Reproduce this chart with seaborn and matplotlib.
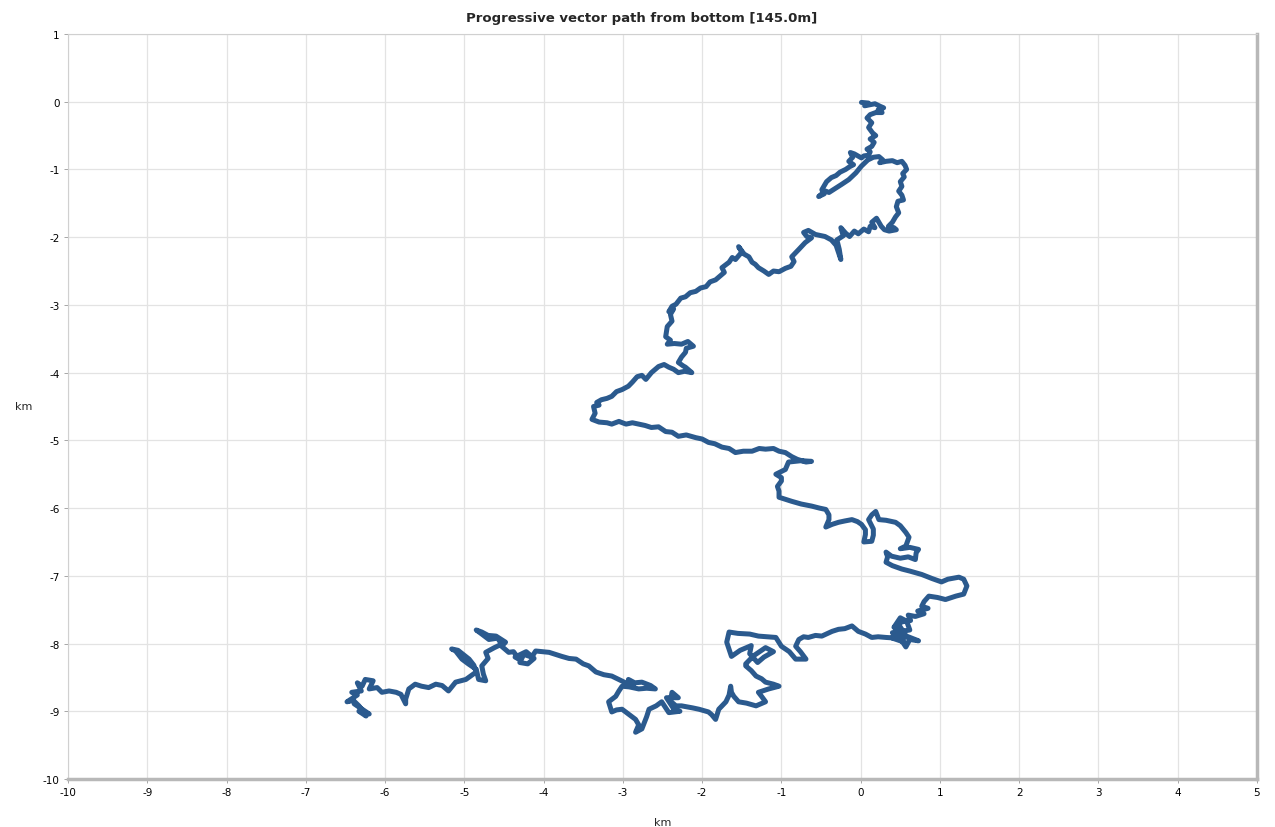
import matplotlib
matplotlib.use("Agg")
import matplotlib.pyplot as plt
import pandas as pd
import seaborn as sns

# path as (km east, km north) points, split into stretches
seg_top = [(0.01, -0.01), (0.10, -0.02), (0.05, -0.06), (0.18, -0.03), (0.25, -0.07), (0.29, -0.09),
           (0.22, -0.12), (0.27, -0.16), (0.19, -0.16), (0.12, -0.19), (0.08, -0.24), (0.14, -0.31),
           (0.10, -0.38), (0.15, -0.46), (0.19, -0.50), (0.12, -0.55), (0.17, -0.60), (0.14, -0.66),
           (0.08, -0.70), (0.12, -0.74), (0.10, -0.79), (0.04, -0.80), (0.01, -0.83), (-0.08, -0.77),
           (-0.13, -0.75), (-0.10, -0.82), (-0.15, -0.88), (-0.09, -0.93), (-0.14, -0.96), (-0.19, -1.00),
           (-0.26, -1.04), (-0.31, -1.09), (-0.37, -1.12), (-0.43, -1.18), (-0.49, -1.30), (-0.46, -1.36),
           (-0.53, -1.40), (-0.50, -1.37), (-0.44, -1.32), (-0.40, -1.34), (-0.32, -1.28), (-0.24, -1.22),
           (-0.15, -1.15), (-0.06, -1.05), (0.01, -0.95), (0.09, -0.86), (0.16, -0.82), (0.23, -0.81),
           (0.28, -0.86), (0.24, -0.90), (0.32, -0.88), (0.40, -0.87), (0.46, -0.90), (0.52, -0.88),
           (0.56, -0.94), (0.58, -1.00), (0.53, -1.06), (0.55, -1.11), (0.50, -1.18), (0.52, -1.25),
           (0.48, -1.32), (0.52, -1.38), (0.54, -1.45), (0.47, -1.47), (0.45, -1.55), (0.48, -1.64),
           (0.44, -1.70), (0.40, -1.78), (0.35, -1.84), (0.42, -1.86), (0.45, -1.89), (0.36, -1.91),
           (0.30, -1.89), (0.26, -1.84), (0.20, -1.72), (0.14, -1.78), (0.18, -1.86), (0.12, -1.84),
           (0.10, -1.92), (0.04, -1.88), (-0.03, -1.95), (-0.08, -1.91), (-0.14, -1.99), (-0.19, -1.94),
           (-0.25, -1.86), (-0.22, -1.98), (-0.30, -2.04), (-0.27, -2.18), (-0.25, -2.33), (-0.31, -2.12),
           (-0.37, -2.04), (-0.45, -1.99), (-0.57, -1.96), (-0.66, -1.90), (-0.72, -1.93), (-0.68, -1.99),
           (-0.62, -2.01), (-0.70, -2.08), (-0.78, -2.18)]

seg_west = [(-0.87, -2.29), (-0.84, -2.36), (-0.88, -2.43), (-0.95, -2.46), (-1.03, -2.51), (-1.10, -2.50),
            (-1.16, -2.55), (-1.22, -2.50), (-1.29, -2.45), (-1.33, -2.40), (-1.37, -2.37), (-1.41, -2.29),
            (-1.47, -2.25), (-1.54, -2.14), (-1.50, -2.22), (-1.58, -2.33), (-1.62, -2.30), (-1.66, -2.37),
            (-1.75, -2.45), (-1.72, -2.52), (-1.83, -2.63), (-1.90, -2.66), (-1.95, -2.73), (-2.02, -2.75),
            (-2.08, -2.80), (-2.15, -2.82), (-2.21, -2.88), (-2.27, -2.90), (-2.33, -2.99), (-2.38, -3.02),
            (-2.42, -3.10), (-2.36, -3.06), (-2.40, -3.14), (-2.38, -3.24), (-2.44, -3.32), (-2.46, -3.47),
            (-2.40, -3.52), (-2.44, -3.58), (-2.35, -3.57), (-2.26, -3.58), (-2.18, -3.54), (-2.11, -3.61),
            (-2.20, -3.64), (-2.21, -3.70), (-2.26, -3.77), (-2.30, -3.85), (-2.24, -3.90), (-2.21, -3.92),
            (-2.13, -4.00), (-2.22, -3.98), (-2.30, -4.00), (-2.36, -3.95), (-2.42, -3.92), (-2.48, -3.88),
            (-2.55, -3.91), (-2.60, -3.96), (-2.64, -4.00), (-2.71, -4.10), (-2.76, -4.04), (-2.82, -4.06),
            (-2.88, -4.14), (-2.93, -4.20), (-3.01, -4.25), (-3.08, -4.28), (-3.14, -4.35), (-3.20, -4.38),
            (-3.27, -4.40), (-3.33, -4.44), (-3.30, -4.48), (-3.37, -4.50), (-3.35, -4.60), (-3.39, -4.69),
            (-3.30, -4.73), (-3.20, -4.74), (-3.14, -4.76), (-3.05, -4.72), (-2.96, -4.76), (-2.88, -4.74),
            (-2.80, -4.76), (-2.72, -4.78), (-2.64, -4.81), (-2.55, -4.80), (-2.46, -4.87), (-2.38, -4.88),
            (-2.30, -4.94), (-2.20, -4.92), (-2.08, -4.96), (-2.00, -4.98), (-1.92, -5.03), (-1.84, -5.05),
            (-1.75, -5.10), (-1.66, -5.12), (-1.58, -5.18), (-1.48, -5.16), (-1.37, -5.16), (-1.28, -5.12),
            (-1.20, -5.13), (-1.10, -5.12), (-1.03, -5.16)]

seg_east = [(-0.95, -5.18), (-0.87, -5.24), (-0.80, -5.28), (-0.69, -5.32), (-0.62, -5.31), (-0.75, -5.30),
            (-0.91, -5.32), (-0.95, -5.43), (-1.07, -5.50), (-1.00, -5.55), (-1.00, -5.60), (-1.05, -5.68),
            (-1.03, -5.75), (-1.03, -5.84), (-0.95, -5.87), (-0.87, -5.90), (-0.75, -5.94), (-0.62, -5.97),
            (-0.52, -6.00), (-0.44, -6.02), (-0.40, -6.10), (-0.40, -6.17), (-0.44, -6.28), (-0.36, -6.24),
            (-0.28, -6.21), (-0.20, -6.19), (-0.11, -6.17), (-0.04, -6.20), (0.01, -6.24), (0.06, -6.32),
            (0.06, -6.39), (0.04, -6.50), (0.14, -6.49), (0.16, -6.40), (0.16, -6.31), (0.10, -6.17),
            (0.14, -6.10), (0.19, -6.05), (0.23, -6.17), (0.32, -6.18), (0.44, -6.21), (0.50, -6.26),
            (0.57, -6.36), (0.61, -6.43), (0.57, -6.56), (0.50, -6.60), (0.62, -6.58), (0.73, -6.61),
            (0.70, -6.66), (0.69, -6.76), (0.60, -6.72), (0.50, -6.74), (0.39, -6.71), (0.32, -6.65),
            (0.34, -6.72), (0.32, -6.80), (0.40, -6.85), (0.52, -6.90), (0.62, -6.93), (0.77, -6.98),
            (0.90, -7.04), (1.02, -7.09), (1.10, -7.05), (1.24, -7.02), (1.30, -7.05), (1.34, -7.15),
            (1.30, -7.27), (1.20, -7.30), (1.07, -7.35), (0.97, -7.32), (0.86, -7.30), (0.80, -7.38),
            (0.77, -7.45), (0.85, -7.48), (0.72, -7.52), (0.80, -7.56), (0.69, -7.60), (0.60, -7.58),
            (0.63, -7.66), (0.52, -7.68), (0.42, -7.76), (0.50, -7.62), (0.58, -7.67), (0.62, -7.80),
            (0.40, -7.84), (0.58, -7.90), (0.48, -7.72), (0.40, -7.92), (0.55, -7.98), (0.48, -7.89),
            (0.57, -8.05), (0.62, -7.94), (0.73, -7.96), (0.60, -7.90), (0.45, -7.92), (0.32, -7.91),
            (0.22, -7.90), (0.14, -7.91), (0.06, -7.86), (-0.03, -7.82), (-0.11, -7.74), (-0.20, -7.78),
            (-0.28, -7.79), (-0.36, -7.82), (-0.49, -7.89), (-0.57, -7.88), (-0.66, -7.91), (-0.72, -7.90),
            (-0.78, -7.94), (-0.82, -8.04), (-0.76, -8.12), (-0.69, -8.23), (-0.82, -8.23), (-0.90, -8.12),
            (-1.00, -8.04), (-1.07, -7.91), (-1.18, -7.90), (-1.29, -7.89), (-1.40, -7.86), (-1.55, -7.85),
            (-1.66, -7.83), (-1.69, -7.98), (-1.63, -8.19), (-1.52, -8.10), (-1.38, -8.03), (-1.40, -8.15),
            (-1.30, -8.28), (-1.22, -8.20), (-1.10, -8.12), (-1.20, -8.06), (-1.35, -8.18), (-1.45, -8.30),
            (-1.45, -8.33), (-1.38, -8.40), (-1.32, -8.48), (-1.25, -8.52), (-1.20, -8.57), (-1.10, -8.60),
            (-1.03, -8.63), (-1.16, -8.67), (-1.29, -8.72), (-1.25, -8.78), (-1.20, -8.86), (-1.32, -8.92),
            (-1.44, -8.88), (-1.54, -8.86), (-1.60, -8.78), (-1.63, -8.72), (-1.64, -8.63), (-1.66, -8.76),
            (-1.70, -8.86), (-1.75, -8.92), (-1.79, -8.97), (-1.83, -9.12), (-1.88, -9.05), (-1.92, -9.01),
            (-2.04, -8.97)]

seg_south = [(-2.12, -8.95), (-2.26, -8.92), (-2.33, -8.92), (-2.40, -8.85), (-2.38, -8.72), (-2.30, -8.80),
             (-2.45, -8.80), (-2.35, -8.98), (-2.28, -9.00), (-2.42, -9.02), (-2.51, -8.86), (-2.58, -8.92),
             (-2.67, -8.97), (-2.70, -9.08), (-2.76, -9.26), (-2.84, -9.31), (-2.80, -9.20), (-2.84, -9.12),
             (-2.92, -9.05), (-3.01, -8.97), (-3.08, -8.98), (-3.14, -9.01), (-3.18, -8.86), (-3.09, -8.78),
             (-3.05, -8.70), (-3.01, -8.63), (-2.92, -8.64), (-2.80, -8.67), (-2.70, -8.66), (-2.59, -8.67),
             (-2.65, -8.62), (-2.76, -8.57), (-2.85, -8.58), (-2.93, -8.53), (-2.86, -8.64), (-3.00, -8.56),
             (-3.14, -8.48), (-3.24, -8.46), (-3.34, -8.42), (-3.43, -8.33), (-3.50, -8.30), (-3.59, -8.23),
             (-3.68, -8.22), (-3.77, -8.19), (-3.85, -8.16), (-3.93, -8.13), (-4.02, -8.12), (-4.10, -8.11),
             (-4.15, -8.20), (-4.25, -8.16), (-4.30, -8.28), (-4.20, -8.30), (-4.12, -8.22), (-4.22, -8.12),
             (-4.36, -8.20), (-4.31, -8.23), (-4.38, -8.12), (-4.44, -8.13), (-4.53, -8.04), (-4.48, -7.98),
             (-4.60, -7.89), (-4.70, -7.88), (-4.78, -7.83), (-4.85, -7.80), (-4.78, -7.86), (-4.69, -7.94),
             (-4.58, -7.92), (-4.53, -8.01), (-4.62, -8.06), (-4.73, -8.13), (-4.70, -8.22), (-4.78, -8.33),
             (-4.76, -8.45), (-4.73, -8.55), (-4.82, -8.53), (-4.85, -8.38), (-4.95, -8.30), (-5.03, -8.23),
             (-5.11, -8.11), (-5.16, -8.08), (-5.08, -8.10), (-4.94, -8.23), (-4.88, -8.32), (-4.85, -8.42),
             (-4.98, -8.53), (-5.11, -8.57), (-5.20, -8.70), (-5.28, -8.62), (-5.36, -8.60), (-5.45, -8.65),
             (-5.54, -8.63), (-5.62, -8.60), (-5.70, -8.67), (-5.74, -8.82), (-5.74, -8.89), (-5.80, -8.75),
             (-5.86, -8.72), (-5.95, -8.70), (-6.04, -8.72), (-6.10, -8.65), (-6.20, -8.67), (-6.15, -8.55),
             (-6.25, -8.53), (-6.29, -8.63), (-6.35, -8.58), (-6.30, -8.70), (-6.42, -8.72), (-6.35, -8.76),
             (-6.48, -8.86), (-6.40, -8.84), (-6.33, -8.92), (-6.24, -9.07), (-6.33, -9.00), (-6.20, -9.04),
             (-6.39, -8.89)]

x_ticks = list(range(-10, 6))
y_ticks = list(range(-10, 2))

points = seg_top + seg_west + seg_east + seg_south
df = pd.DataFrame(points, columns=["x", "y"])
df["step"] = range(len(df))

sns.set_style("whitegrid")
plt.rcParams["font.family"] = ["DejaVu Sans"]
plt.rcParams["axes.unicode_minus"] = False

fig = plt.figure(figsize=(12.75, 8.28), dpi=100)
ax = fig.add_axes([68 / 1275, 48 / 828, 1189 / 1275, 745 / 828])

sns.lineplot(data=df, x="x", y="y", sort=False, estimator=None, color="#2b5a8e",
             linewidth=3.6, ax=ax, solid_joinstyle="round", solid_capstyle="round")

ax.set_xlim(-10, 5)
ax.set_ylim(-10, 1)
ax.set_xticks(x_ticks)
ax.set_yticks(y_ticks)
ax.tick_params(labelsize=7.5, labelcolor="black", length=3, width=0.6, color="#999999", pad=3,
               left=True, bottom=True)
ax.grid(True, color="#e3e3e3", linewidth=0.9)

for s in ["top", "left"]:
    ax.spines[s].set_color("#d0d0d0")
    ax.spines[s].set_linewidth(0.8)
for s in ["right", "bottom"]:
    ax.spines[s].set_color("#b8b8b8")
    ax.spines[s].set_linewidth(2.5)

ax.set_xlabel("km", fontsize=8, labelpad=14)
ax.set_ylabel("km", fontsize=8, rotation=0, labelpad=14, va="center")
fig.suptitle("Progressive vector path from bottom [145.0m]", x=642 / 1275, y=0.985,
             fontsize=9.5, fontweight="bold")

fig.savefig("out.png", dpi=100)
